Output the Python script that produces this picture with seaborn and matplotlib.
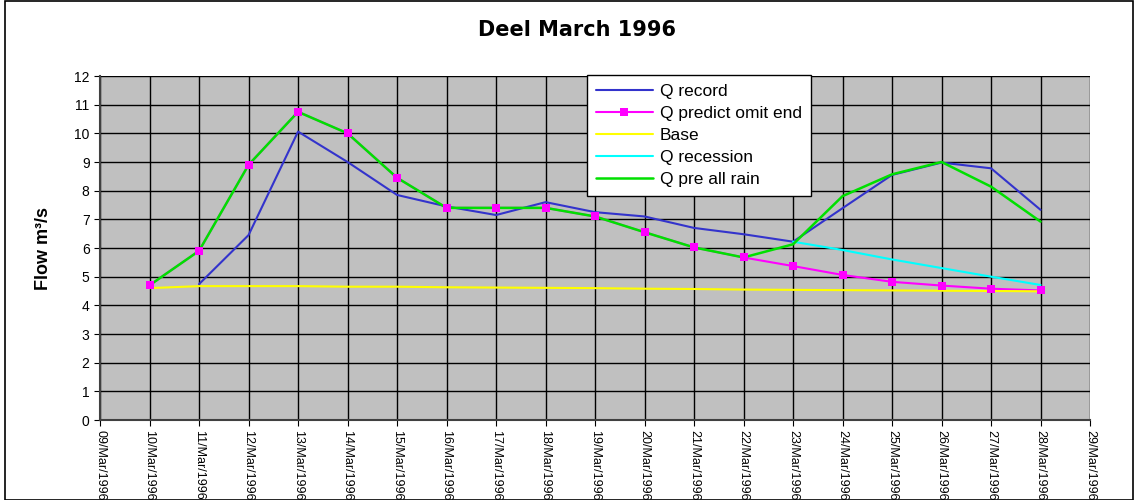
import pandas as pd
import seaborn as sns
import matplotlib.pyplot as plt
import matplotlib.dates as mdates
from matplotlib.patches import Rectangle

# daily values, 10 Mar 1996 .. 28 Mar 1996
dates = pd.date_range('1996-03-10', '1996-03-28', freq='D')

q_record = [None, 4.74, 6.45, 10.06, 9.0, 7.85, 7.45, 7.15, 7.6, 7.25,
            7.1, 6.7, 6.48, 6.22, 7.39, 8.55, 8.98, 8.78, 7.33]
q_predict = [4.7, 5.9, 8.9, 10.75, 10.0, 8.45, 7.4, 7.4, 7.4, 7.1,
             6.55, 6.02, 5.67, 5.37, 5.06, 4.82, 4.69, 4.58, 4.52]
base = [4.6, 4.67, 4.67, 4.67, 4.65, 4.65, 4.63, 4.62, 4.61, 4.6,
        4.58, 4.57, 4.55, 4.54, 4.53, 4.52, 4.51, 4.5, 4.49]
q_recession = [None] * 13 + [6.22, 5.93, 5.6, 5.3, 5.0, 4.71]
q_pre_all_rain = [4.7, 5.9, 8.9, 10.75, 10.0, 8.45, 7.4, 7.4, 7.4, 7.1,
                  6.55, 6.02, 5.67, 6.13, 7.81, 8.57, 9.0, 8.14, 6.92]

df = pd.DataFrame({
    'date': dates,
    'Q record': q_record,
    'Q predict omit end': q_predict,
    'Base': base,
    'Q recession': q_recession,
    'Q pre all rain': q_pre_all_rain,
}).astype({'Q record': float, 'Q recession': float})

sns.set_style('white')
plt.rcParams['font.family'] = ['Liberation Sans', 'DejaVu Sans']
plt.rcParams.update({'text.color': 'black', 'axes.labelcolor': 'black',
                     'xtick.color': 'black', 'ytick.color': 'black'})

fig = plt.figure(figsize=(11.38, 5.0), dpi=100)
ax = fig.add_axes([0.0879, 0.16, 0.87, 0.688])
ax.set_facecolor('#c0c0c0')

sns.lineplot(data=df, x='date', y='Q record', ax=ax, color='#3333cc',
             lw=1.5, label='Q record', zorder=3)
sns.lineplot(data=df, x='date', y='Q predict omit end', ax=ax, color='#ff00ff',
             lw=1.5, marker='s', markersize=6, markeredgewidth=0,
             label='Q predict omit end', zorder=2)
sns.lineplot(data=df, x='date', y='Base', ax=ax, color='#ffff00',
             lw=1.5, label='Base', zorder=3)
sns.lineplot(data=df, x='date', y='Q recession', ax=ax, color='#00ffff',
             lw=1.5, label='Q recession', zorder=3)
sns.lineplot(data=df, x='date', y='Q pre all rain', ax=ax, color='#00e000',
             lw=1.8, label='Q pre all rain', zorder=4)
# magenta markers on top of the green line
ax.plot(df['date'], df['Q predict omit end'], ls='none', marker='s',
        ms=6, mew=0, color='#ff00ff', zorder=5)

ax.set_xlim(pd.Timestamp('1996-03-09'), pd.Timestamp('1996-03-29'))
ax.set_ylim(0, 12)
ax.set_yticks(range(0, 13))
ax.xaxis.set_major_locator(mdates.DayLocator())
ax.xaxis.set_major_formatter(mdates.DateFormatter('%d/%b/%Y'))
ax.tick_params(axis='x', labelrotation=-90, labelsize=9, length=4,
               direction='out', bottom=True)
ax.tick_params(axis='y', labelsize=10, length=4, direction='out', left=True)
for lbl in ax.get_xticklabels():
    lbl.set_verticalalignment('top')
    lbl.set_horizontalalignment('center')

ax.grid(True, color='black', lw=1)
ax.set_axisbelow(True)
for s in ['top', 'right']:
    ax.spines[s].set_visible(False)
for s in ['left', 'bottom']:
    ax.spines[s].set_color('#404040')
    ax.spines[s].set_linewidth(1.5)

ax.set_xlabel('')
ax.set_ylabel('Flow m³/s', fontsize=13, fontweight='bold', labelpad=16)
fig.text(0.507, 0.94, 'Deel March 1996', ha='center', va='center',
         fontsize=15, fontweight='bold', family='DejaVu Sans')

leg = ax.legend(loc='upper left', bbox_to_anchor=(0.492, 1.003), fontsize=12.5,
                frameon=True, fancybox=False, edgecolor='black',
                handlelength=3.3, borderpad=0.5, labelspacing=0.4,
                handletextpad=0.4, borderaxespad=0)
leg.get_frame().set_linewidth(1)
leg.get_frame().set_facecolor('white')
leg.get_frame().set_alpha(1)
leg.set_zorder(10)

fig.patches.append(Rectangle((0.004, 0.0), 0.992, 0.998, transform=fig.transFigure,
                             fill=False, edgecolor='black', lw=1.2))

fig.savefig('out.png', dpi=100)
